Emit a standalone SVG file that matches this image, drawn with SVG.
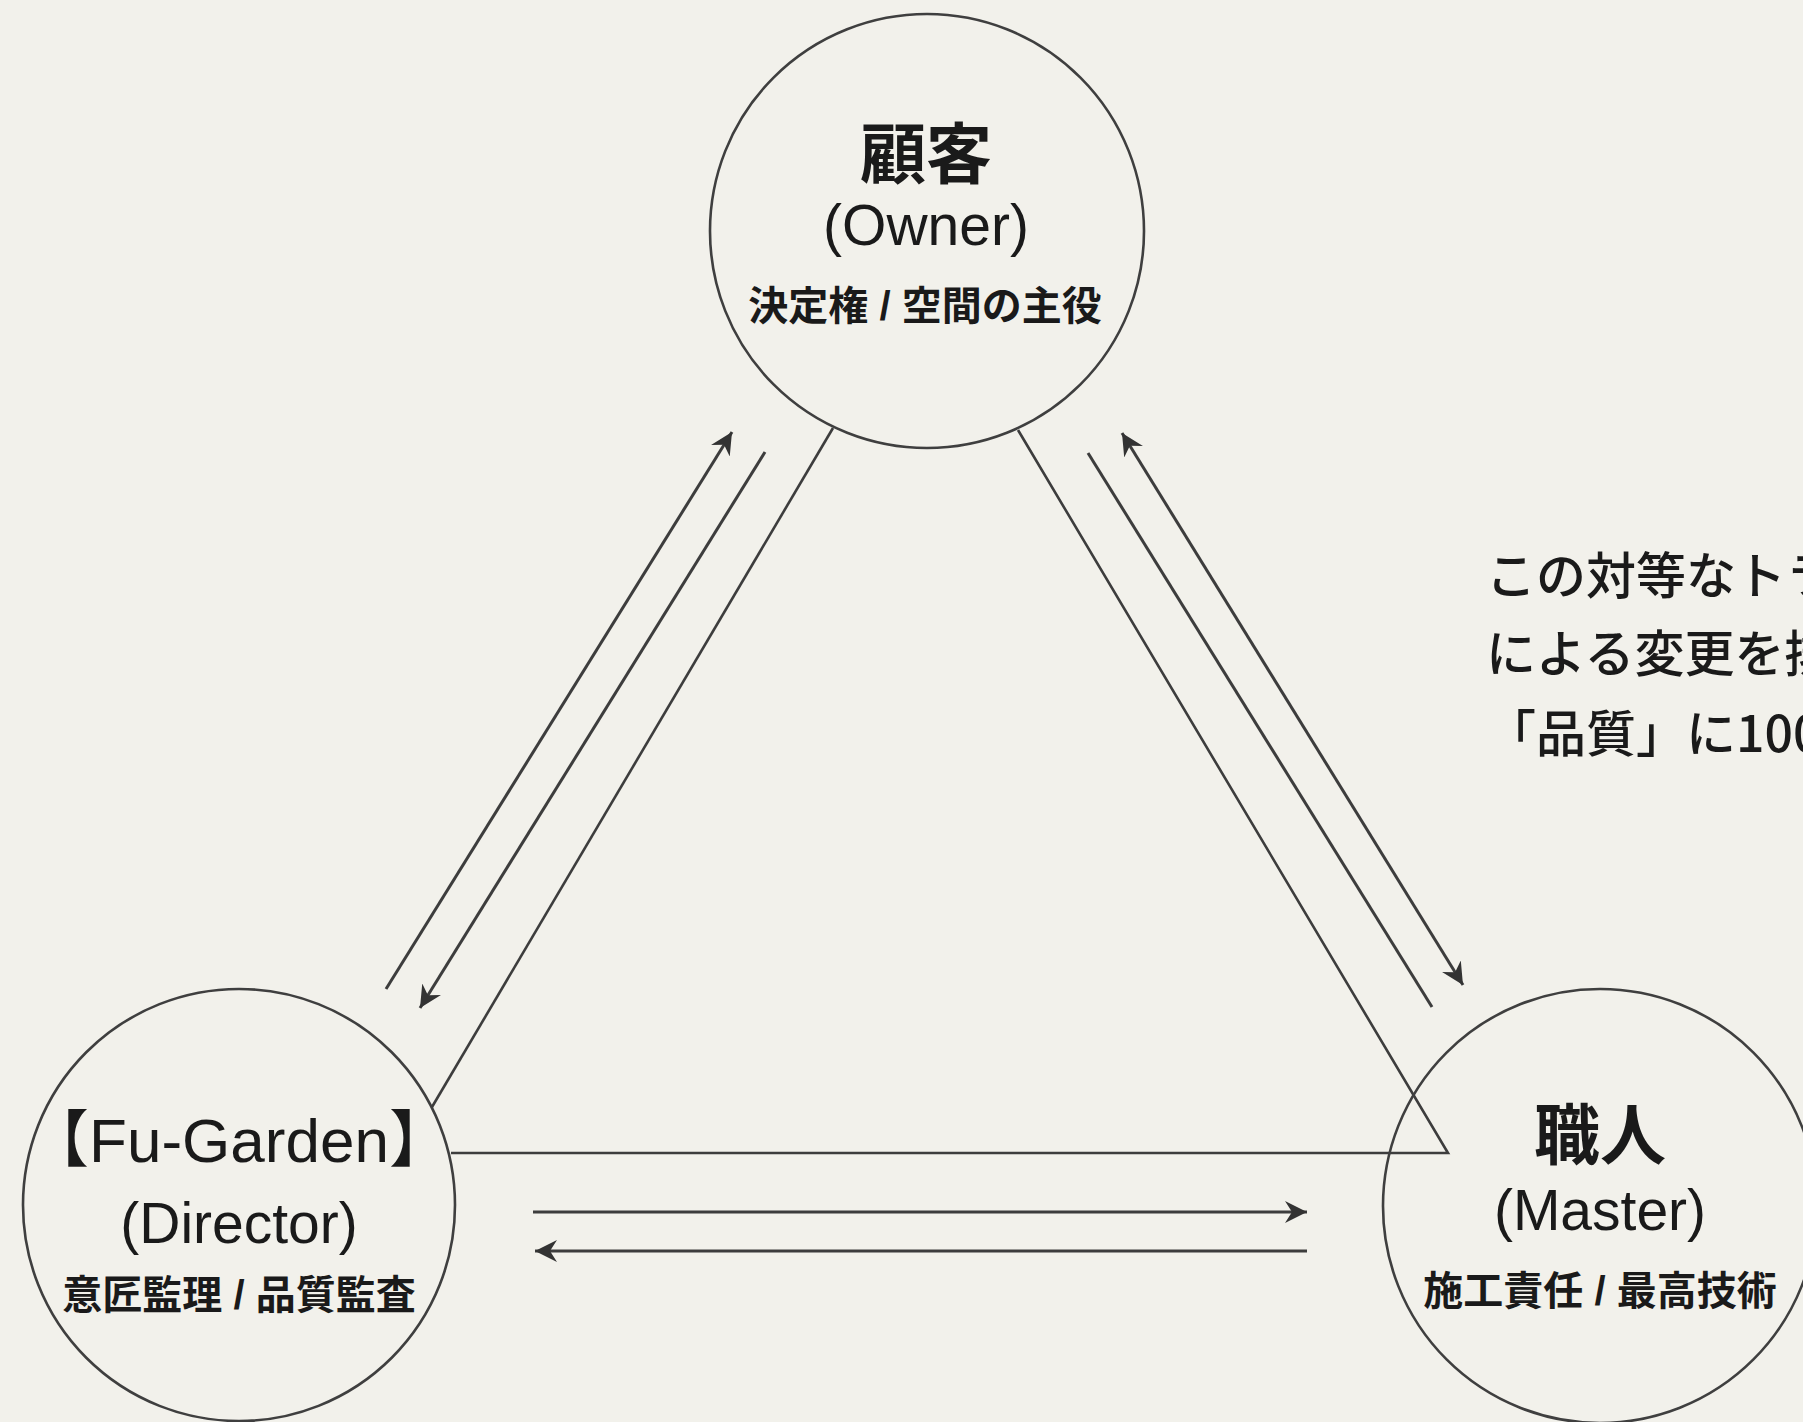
<svg xmlns="http://www.w3.org/2000/svg" width="1803" height="1422" viewBox="0 0 1803 1422">
  <style>
    .node { fill: none; stroke: #3f3f3f; stroke-width: 2.6; }
    .edge { fill: none; stroke: #3d3d3d; stroke-width: 2.6; stroke-linejoin: miter; }
    .arrow { fill: none; stroke: #3d3d3d; stroke-width: 3; }
    .title { font-family: "Liberation Sans", "Noto Sans CJK JP", sans-serif; font-weight: 700; font-size: 66px; fill: #1a1a1a; text-anchor: middle; }
    .role { font-family: "Liberation Sans", "Noto Sans CJK JP", sans-serif; font-size: 57px; fill: #1a1a1a; text-anchor: middle; }
    .brand { font-family: "Liberation Sans", "Noto Sans CJK JP", sans-serif; font-size: 62px; fill: #1a1a1a; text-anchor: middle; }
    .sub { font-family: "Liberation Sans", "Noto Sans CJK JP", sans-serif; font-weight: 700; font-size: 40px; fill: #1a1a1a; text-anchor: middle; }
    .note { font-family: "Noto Sans CJK JP", sans-serif; font-weight: 500; font-size: 50px; fill: #1a1a1a; }
  </style>
  <defs>
    <marker id="head" viewBox="0 0 24 24" refX="22" refY="12" markerWidth="24" markerHeight="24" markerUnits="userSpaceOnUse" orient="auto-start-reverse">
      <path d="M0,1 L22,12 L0,23 L7,12 Z" fill="#333333"/>
    </marker>
  </defs>
  <rect x="0" y="0" width="1803" height="1422" fill="#f2f1eb"/>

  <g id="connectors">
    <line class="edge" x1="833" y1="428" x2="432" y2="1107"/>
    <path class="edge" d="M451,1153 L1448,1153 L1018,430"/>
    <line class="arrow" x1="386" y1="989" x2="732" y2="432" marker-end="url(#head)"/>
    <line class="arrow" x1="765" y1="452" x2="420" y2="1008" marker-end="url(#head)"/>
    <line class="arrow" x1="1088" y1="453" x2="1432" y2="1007"/>
    <line class="arrow" x1="1122" y1="433" x2="1463" y2="985" marker-start="url(#head)" marker-end="url(#head)"/>
    <line class="arrow" x1="533" y1="1212" x2="1307" y2="1212" marker-end="url(#head)"/>
    <line class="arrow" x1="1307" y1="1251" x2="535" y2="1251" marker-end="url(#head)"/>
  </g>

  <g id="owner">
    <circle class="node" cx="927" cy="231" r="217"/>
    <text class="title" x="926" y="178">顧客</text>
    <text class="role" x="926" y="245">(Owner)</text>
    <text class="sub" x="925" y="320">決定権 / 空間の主役</text>
  </g>

  <g id="director">
    <circle class="node" cx="239" cy="1205" r="216"/>
    <text class="brand" x="239" y="1162">【Fu-Garden】</text>
    <text class="role" x="239" y="1243">(Director)</text>
    <text class="sub" x="239" y="1309">意匠監理 / 品質監査</text>
  </g>

  <g id="master">
    <circle class="node" cx="1600" cy="1206" r="217"/>
    <text class="title" x="1600" y="1159">職人</text>
    <text class="role" x="1600" y="1230">(Master)</text>
    <text class="sub" x="1600" y="1305">施工責任 / 最高技術</text>
  </g>

  <g id="note">
    <text class="note" x="1486" y="594">この対等なトライアングル</text>
    <text class="note" x="1486" y="672">による変更を排除し</text>
    <text class="note" x="1486" y="752">「品質」に100%</text>
  </g>
</svg>
